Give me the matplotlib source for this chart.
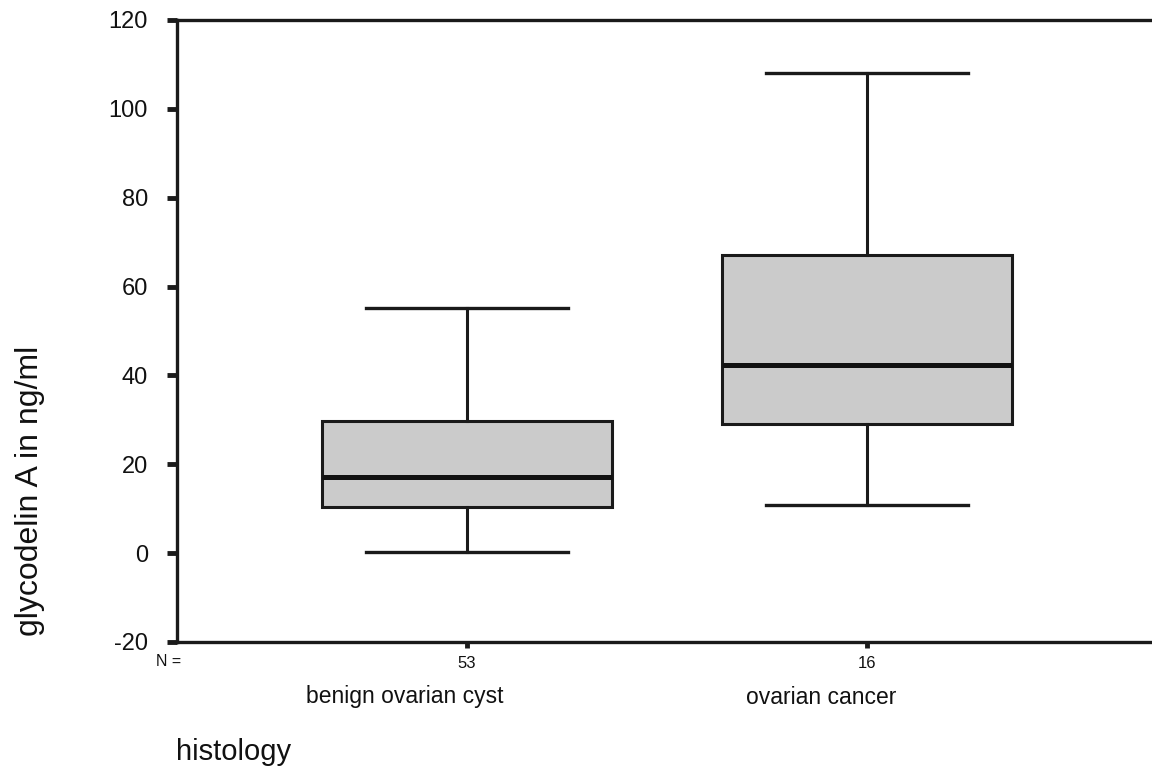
import matplotlib
matplotlib.use("Agg")
import matplotlib.pyplot as plt

plt.rcParams['font.family'] = ['Liberation Sans', 'DejaVu Sans']
plt.rcParams['axes.unicode_minus'] = False

# values (ng/ml)
groups = ["benign ovarian cyst", "ovarian cancer"]
counts = [53, 16]
whisker_low = [0.2, 10.8]
q1 = [10.4, 29.0]
medians = [17.2, 42.3]
q3 = [29.8, 67.1]
whisker_high = [55.2, 108.0]

stats = []
for i in range(len(groups)):
    stats.append({
        "label": str(counts[i]),
        "whislo": whisker_low[i],
        "q1": q1[i],
        "med": medians[i],
        "q3": q3[i],
        "whishi": whisker_high[i],
        "fliers": [],
    })

fig = plt.figure(figsize=(11.52, 7.74), dpi=100)
ax = fig.add_axes([177 / 1152, 1 - 642 / 774, 1 - 177 / 1152, (642 - 20) / 774])

positions = [1, 2]
ax.bxp(stats, positions=positions, widths=0.725, patch_artist=True,
       showfliers=False,
       boxprops=dict(facecolor="#cbcbcb", edgecolor="#1a1a1a", linewidth=2.2),
       medianprops=dict(color="#111111", linewidth=3.6, solid_capstyle="butt"),
       whiskerprops=dict(color="#1a1a1a", linewidth=2.2),
       capprops=dict(color="#1a1a1a", linewidth=2.4),
       capwidths=0.505)

ax.set_xlim(1 - 290 / 400, 2 + 285 / 400)
ax.set_ylim(-20, 120)
ax.set_yticks([-20, 0, 20, 40, 60, 80, 100, 120])

for side in ["left", "bottom", "top"]:
    ax.spines[side].set_linewidth(2.4)
    ax.spines[side].set_color("#1a1a1a")
ax.spines["right"].set_visible(False)

ax.tick_params(axis="y", direction="out", length=7, width=3.5, pad=14,
               labelsize=17, color="#1a1a1a", labelcolor="#111111")
ax.tick_params(axis="x", direction="out", length=4, width=3.5, pad=6,
               labelsize=12, color="#1a1a1a", labelcolor="#111111")
ax.set_xticks(positions)
ax.set_xticklabels([str(c) for c in counts])

# group names sit a little left of their ticks, as in the original
label_x = [405, 821]
for x, g in zip(label_x, groups):
    fig.text(x / 1152, 1 - 697 / 774, g, ha="center", va="center",
             fontsize=16.5, color="#111111")

fig.text(169 / 1152, 1 - 662 / 774, "N =", ha="center", va="center",
         fontsize=11.5, color="#111111")
fig.text(176 / 1152, 1 - 752 / 774, "histology", ha="left", va="center",
         fontsize=21, color="#111111")
fig.text(30 / 1152, 1 - 491 / 774, "glycodelin A in ng/ml", rotation=90,
         ha="center", va="center", fontsize=23, color="#111111")

fig.savefig("out.png", dpi=100)
